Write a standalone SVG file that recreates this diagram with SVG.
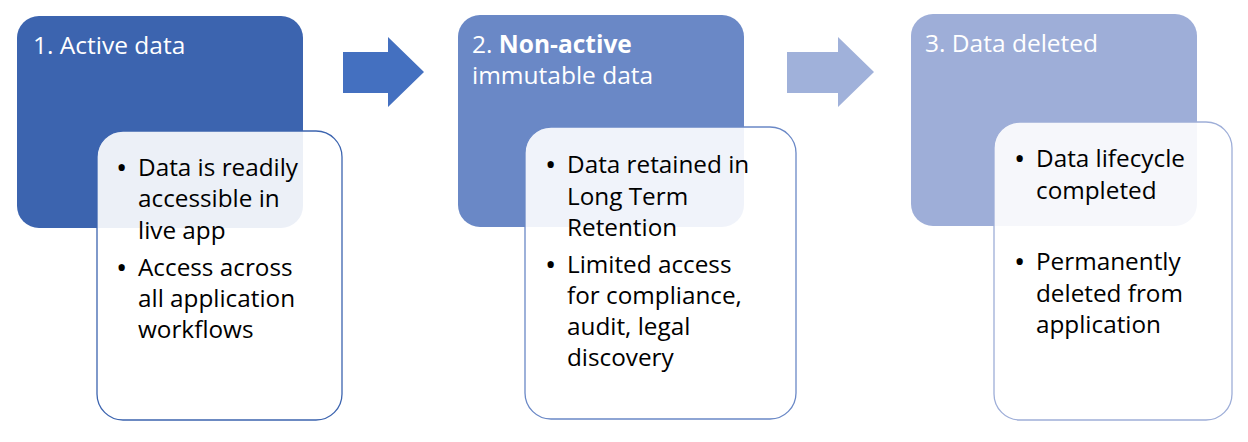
<svg xmlns="http://www.w3.org/2000/svg" width="1248" height="442" viewBox="0 0 1248 442">
<style>
.title{font-family:"Open Sans","Noto Sans",sans-serif;font-size:24.5px;fill:#ffffff}
.body{font-family:"Open Sans","Noto Sans",sans-serif;font-size:24.3px;fill:#000000}
.bul{font-family:"Open Sans","Noto Sans",sans-serif;font-size:30px;fill:#000000}
.card{fill:#ffffff;fill-opacity:0.9;stroke-width:1.3}
</style>
<rect width="1248" height="442" fill="#ffffff"/>
<g id="connectors">
<polygon points="343,52 388,52 388,37 424,72 388,107 388,93 343,93" fill="#4470C0"/>
<polygon points="787,52 838,52 838,37 874,72 838,107 838,93 787,93" fill="#A0B1DA"/>
</g>
<g id="stage1">
<rect x="17" y="16" width="286" height="212" rx="22" fill="#3C64AF"/>
<text class="title" x="33" y="54">1. Active data</text>
<rect class="card" x="97" y="131" width="245" height="289" rx="26" stroke="#3C64AF"/>
<g class="bul">
<text x="116" y="178">•</text>
<text x="116" y="278">•</text>
</g>
<g class="body">
<text x="138" y="176">Data is readily</text>
<text x="138" y="207">accessible in</text>
<text x="138" y="239">live app</text>
<text x="138" y="276">Access across</text>
<text x="138" y="307">all application</text>
<text x="138" y="338">workflows</text>
</g>
</g>
<g id="stage2">
<rect x="458" y="15" width="286" height="212" rx="22" fill="#6A88C6"/>
<text class="title" x="472" y="53">2. <tspan font-weight="bold">Non-active</tspan></text>
<text class="title" x="472" y="84">immutable data</text>
<rect class="card" x="525" y="127" width="271" height="292" rx="26" stroke="#6A88C6"/>
<g class="bul">
<text x="545" y="175">•</text>
<text x="545" y="275">•</text>
</g>
<g class="body">
<text x="567" y="173">Data retained in</text>
<text x="567" y="205">Long Term</text>
<text x="567" y="236">Retention</text>
<text x="567" y="273">Limited access</text>
<text x="567" y="304">for compliance,</text>
<text x="567" y="335">audit, legal</text>
<text x="567" y="366">discovery</text>
</g>
</g>
<g id="stage3">
<rect x="911" y="14" width="286" height="212" rx="22" fill="#9EAED8"/>
<text class="title" x="925" y="52">3. Data deleted</text>
<rect class="card" x="994" y="122" width="238" height="298" rx="26" stroke="#9EAED8"/>
<g class="bul">
<text x="1014" y="169">•</text>
<text x="1014" y="272">•</text>
</g>
<g class="body">
<text x="1036" y="167">Data lifecycle</text>
<text x="1036" y="199">completed</text>
<text x="1036" y="270">Permanently</text>
<text x="1036" y="302">deleted from</text>
<text x="1036" y="333">application</text>
</g>
</g>
</svg>
